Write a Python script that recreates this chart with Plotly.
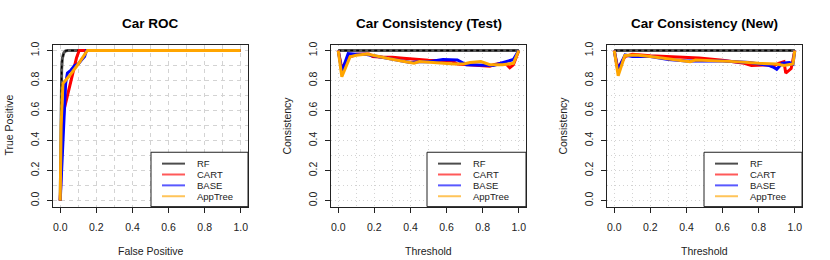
import plotly.graph_objects as go

# ---------------- data ----------------
series_names = ["RF", "CART", "BASE", "AppTree"]
series_colors = ["#555555", "#ff0000", "#0000ff", "#ffa500"]
legend_colors = ["rgba(0,0,0,0.7)", "rgba(255,0,0,0.65)", "rgba(0,0,255,0.65)", "rgba(255,165,0,0.65)"]

tick_vals = [0.0, 0.2, 0.4, 0.6, 0.8, 1.0]
tick_text = ["0.0", "0.2", "0.4", "0.6", "0.8", "1.0"]

panel_titles = ["Car ROC", "Car Consistency (Test)", "Car Consistency (New)"]
x_titles = ["False Positive", "Threshold", "Threshold"]
y_titles = ["True Positive", "Consistency", "Consistency"]

# ROC curves
roc_rf_x = [0.0, 0.004, 0.008, 0.012, 0.02, 0.03, 0.04, 1.0]
roc_rf_y = [0.0, 0.6, 0.88, 0.95, 0.985, 0.997, 1.0, 1.0]
roc_cart_x = [0.0, 0.01, 0.02, 0.04, 0.07, 0.09, 0.105, 0.12, 1.0]
roc_cart_y = [0.0, 0.4, 0.6, 0.7, 0.86, 0.95, 1.0, 1.0, 1.0]
roc_base_x = [0.0, 0.01, 0.02, 0.03, 0.04, 0.06, 0.08, 0.1, 0.12, 0.135, 0.145, 1.0]
roc_base_y = [0.0, 0.3, 0.6, 0.78, 0.85, 0.87, 0.9, 0.91, 0.94, 0.96, 1.0, 1.0]
roc_app_x = [0.0, 0.005, 0.015, 0.05, 0.1, 0.15, 1.0]
roc_app_y = [0.0, 0.5, 0.78, 0.83, 0.91, 1.0, 1.0]

# Consistency (Test)
test_rf_x = [0.0, 1.0]
test_rf_y = [1.0, 1.0]
test_cart_x = [0.0, 0.02, 0.06, 0.1, 0.17, 0.19, 0.25, 0.3, 0.36, 0.45, 0.5, 0.6, 0.63, 0.66, 0.73, 0.8, 0.84, 0.86, 0.9, 0.93, 0.95, 0.97, 1.0]
test_cart_y = [1.0, 0.88, 0.955, 0.975, 0.976, 0.96, 0.955, 0.955, 0.948, 0.937, 0.935, 0.93, 0.93, 0.91, 0.905, 0.9, 0.895, 0.905, 0.915, 0.91, 0.885, 0.905, 1.0]
test_base_x = [0.0, 0.02, 0.055, 0.1, 0.15, 0.2, 0.3, 0.4, 0.45, 0.5, 0.58, 0.62, 0.66, 0.71, 0.76, 0.82, 0.86, 0.9, 0.94, 0.97, 1.0]
test_base_y = [1.0, 0.86, 0.98, 0.975, 0.975, 0.965, 0.945, 0.92, 0.925, 0.925, 0.94, 0.94, 0.937, 0.905, 0.905, 0.9, 0.9, 0.915, 0.93, 0.94, 1.0]
test_app_x = [0.0, 0.02, 0.066, 0.1, 0.16, 0.2, 0.27, 0.35, 0.42, 0.45, 0.55, 0.64, 0.7, 0.73, 0.79, 0.84, 0.91, 0.97, 1.0]
test_app_y = [1.0, 0.825, 0.959, 0.968, 0.976, 0.965, 0.948, 0.93, 0.915, 0.926, 0.92, 0.91, 0.912, 0.92, 0.926, 0.905, 0.905, 0.915, 1.0]

# Consistency (New)
new_rf_x = [0.0, 1.0]
new_rf_y = [1.0, 1.0]
new_cart_x = [0.0, 0.02, 0.06, 0.1, 0.2, 0.3, 0.47, 0.6, 0.67, 0.72, 0.76, 0.85, 0.88, 0.91, 0.94, 0.95, 0.98, 1.0]
new_cart_y = [1.0, 0.88, 0.96, 0.975, 0.965, 0.958, 0.95, 0.935, 0.926, 0.915, 0.9, 0.905, 0.895, 0.915, 0.926, 0.85, 0.88, 1.0]
new_base_x = [0.0, 0.02, 0.06, 0.1, 0.2, 0.3, 0.4, 0.6, 0.75, 0.82, 0.86, 0.88, 0.9, 0.93, 0.97, 0.99, 1.0]
new_base_y = [1.0, 0.87, 0.97, 0.96, 0.96, 0.94, 0.93, 0.93, 0.92, 0.905, 0.9, 0.89, 0.875, 0.915, 0.92, 0.91, 1.0]
new_app_x = [0.0, 0.022, 0.059, 0.12, 0.2, 0.29, 0.42, 0.45, 0.6, 0.67, 0.8, 0.9, 0.94, 0.99, 1.0]
new_app_y = [1.0, 0.832, 0.967, 0.97, 0.96, 0.948, 0.926, 0.937, 0.93, 0.926, 0.915, 0.91, 0.9, 0.91, 1.0]

panels = [
    [(roc_rf_x, roc_rf_y), (roc_cart_x, roc_cart_y), (roc_base_x, roc_base_y), (roc_app_x, roc_app_y)],
    [(test_rf_x, test_rf_y), (test_cart_x, test_cart_y), (test_base_x, test_base_y), (test_app_x, test_app_y)],
    [(new_rf_x, new_rf_y), (new_cart_x, new_cart_y), (new_base_x, new_base_y), (new_app_x, new_app_y)],
]

# ---------------- layout ----------------
W, H = 830, 260
FONT = "Liberation Sans, Arial, Helvetica, sans-serif"
box_left = [53, 331, 607]
box_right = [248, 526, 802]
box_top, box_bottom = 42, 206
legend_left = [151, 427, 704]
legend_top = 151
legend_rows = [162.5, 173.5, 184.5, 195.5]
grid_dash = ["4px,4px", "1px,3px", "1px,3px"]


def px(xp):
    return xp / W


def py(yp):
    return (H - yp) / H


fig = go.Figure()
layout = dict(
    width=W, height=H,
    margin=dict(l=0, r=0, t=0, b=0),
    paper_bgcolor="white", plot_bgcolor="white",
    font=dict(family=FONT, size=10, color="black"),
    showlegend=False,
    annotations=[], shapes=[],
)

ydom = [py(box_bottom), py(box_top)]
for i in range(3):
    xa = "xaxis" if i == 0 else f"xaxis{i+1}"
    ya = "yaxis" if i == 0 else f"yaxis{i+1}"
    xref = "x" if i == 0 else f"x{i+1}"
    yref = "y" if i == 0 else f"y{i+1}"
    common = dict(
        range=[-0.04, 1.04], tickvals=tick_vals, ticktext=tick_text,
        ticks="outside", ticklen=5, tickcolor="#222", tickwidth=1,
        showline=True, linecolor="#222", linewidth=1, mirror=True,
        showgrid=True, gridcolor="#d3d3d3", gridwidth=1, griddash=grid_dash[i],
        minor=dict(dtick=0.1, tick0=0, showgrid=True, gridcolor="#d3d3d3",
                   gridwidth=1, griddash=grid_dash[i], ticks=""),
        zeroline=False, tickfont=dict(family=FONT, size=10.5, color="#222"),
        fixedrange=True,
    )
    layout[xa] = dict(common, domain=[px(box_left[i]), px(box_right[i])], anchor=yref,
                      ticklabelstandoff=6)
    layout[ya] = dict(common, domain=ydom, anchor=xref, tickangle=-90,
                      ticklabelstandoff=4)

    for k, (xs, ys) in enumerate(panels[i]):
        fig.add_trace(go.Scatter(
            x=xs, y=ys, mode="lines", xaxis=xref, yaxis=yref, name=series_names[k],
            line=dict(color=series_colors[k], width=3),
            showlegend=False, hoverinfo="skip",
        ))
        if k == 0:
            fig.add_trace(go.Scatter(
                x=xs, y=ys, mode="lines", xaxis=xref, yaxis=yref,
                line=dict(color="black", width=1.5, dash="3px,3px"),
                showlegend=False, hoverinfo="skip",
            ))

    # legend box (drawn like R's legend())
    L = legend_left[i]
    layout["shapes"].append(dict(
        type="rect", xref="paper", yref="paper",
        x0=px(L), x1=px(box_right[i]), y0=py(box_bottom), y1=py(legend_top),
        line=dict(color="#222", width=1), fillcolor="white", layer="above"))
    for k, name in enumerate(series_names):
        yr = legend_rows[k]
        layout["shapes"].append(dict(
            type="line", xref="paper", yref="paper",
            x0=px(L + 11), x1=px(L + 34), y0=py(yr), y1=py(yr),
            line=dict(color=legend_colors[k], width=2), layer="above"))
        layout["annotations"].append(dict(
            text=name, x=px(L + 45), y=py(yr), xref="paper", yref="paper",
            showarrow=False, xanchor="left", yanchor="middle", borderpad=0,
            font=dict(family=FONT, size=9.5, color="#222")))

    cx = px((box_left[i] + box_right[i]) / 2)
    layout["annotations"].append(dict(
        text=f"<b>{panel_titles[i]}</b>", x=cx, y=py(21), xref="paper", yref="paper",
        showarrow=False, font=dict(family=FONT, size=13.5, color="black"),
        xanchor="center", yanchor="middle"))
    layout["annotations"].append(dict(
        text=x_titles[i], x=cx, y=py(251), xref="paper", yref="paper",
        showarrow=False, font=dict(family=FONT, size=10.5, color="#222"),
        xanchor="center", yanchor="middle"))
    layout["annotations"].append(dict(
        text=y_titles[i], x=px(box_left[i] - 44), y=py(124), xref="paper", yref="paper",
        showarrow=False, textangle=-90, font=dict(family=FONT, size=10.5, color="#222"),
        xanchor="center", yanchor="middle"))

fig.update_layout(**layout)
fig.write_html("out.html", config={"displayModeBar": False},
               post_script="document.body.style.margin='0';")
